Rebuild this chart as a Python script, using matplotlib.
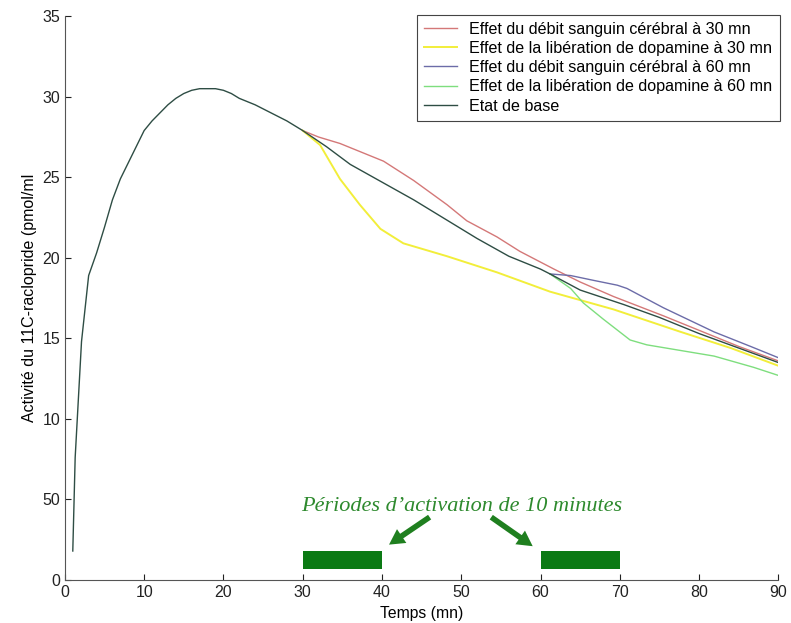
import numpy as np
import matplotlib
matplotlib.use('Agg')
import matplotlib.pyplot as plt

plt.rcParams['font.family'] = ['Liberation Sans', 'DejaVu Sans']

# baseline curve (etat de base)
base_t = [1, 1.3, 2.1, 3, 4, 5, 6, 7, 8, 9, 10, 11, 12, 13, 14, 15, 16, 17, 18, 19,
          20, 21, 22, 24, 26, 28, 30, 33, 36, 40, 44, 48, 52, 56, 60, 61.2,
          65, 70.5, 75, 80, 85, 90]
base_y = [1.8, 7.6, 14.8, 18.9, 20.3, 21.9, 23.6, 24.9, 25.9, 26.9, 27.9, 28.5, 29.0,
          29.5, 29.9, 30.2, 30.4, 30.5, 30.5, 30.5, 30.4, 30.2, 29.9, 29.5, 29.0,
          28.5, 27.9, 26.9, 25.8, 24.7, 23.6, 22.4, 21.2, 20.1, 19.3, 19.0,
          18.0, 17.1, 16.3, 15.3, 14.4, 13.5]

# branches leaving the baseline at 30 mn
red_t = [32, 34.7, 37.2, 40.2, 44, 48.2, 50.7, 54.5, 57.4, 61.7, 65, 69.2, 75.5, 80, 85, 90]
red_y = [27.5, 27.1, 26.6, 26.0, 24.8, 23.3, 22.3, 21.3, 20.4, 19.3, 18.5, 17.6, 16.4,
         15.5, 14.5, 13.6]
yel_t = [32.2, 34.7, 37.2, 39.8, 42.7, 48.2, 54.5, 61.2, 69.2, 77.7, 84, 90]
yel_y = [27.0, 24.9, 23.3, 21.8, 20.9, 20.1, 19.1, 17.9, 16.8, 15.4, 14.4, 13.3]

# branches leaving the baseline at 60 mn
blue_t = [63.8, 66.7, 69.7, 70.9, 75.5, 81.9, 86.5, 90]
blue_y = [18.9, 18.6, 18.3, 18.1, 16.9, 15.4, 14.5, 13.8]
grn_t = [63.8, 65.4, 67.9, 71.3, 73.4, 81.9, 86.9, 90]
grn_y = [18.1, 17.2, 16.2, 14.9, 14.6, 13.9, 13.2, 12.7]

periods = [(30, 40), (60, 70)]
yticks = [0, 5, 10, 15, 20, 25, 30, 35]
ytick_labels = ['0', '50', '10', '15', '20', '25', '30', '35']

legend_labels = ['Effet du débit sanguin cérébral à 30 mn',
                 'Effet de la libération de dopamine à 30 mn',
                 'Effet du débit sanguin cérébral à 60 mn',
                 'Effet de la libération de dopamine à 60 mn',
                 'Etat de base']


def branch(t0, t, y):
    # start the branch at the last baseline point before t0
    bt = np.array(base_t)
    by = np.array(base_y)
    i = np.where(bt <= t0)[0][-1]
    return np.concatenate([[bt[i]], t]), np.concatenate([[by[i]], y])


fig = plt.figure(figsize=(7.91, 6.23), dpi=100)
ax = fig.add_axes([0.082, 0.069, 0.902, 0.905])

x1, y1 = branch(30, red_t, red_y)
x2, y2 = branch(30, yel_t, yel_y)
x3, y3 = branch(61.2, blue_t, blue_y)
x4, y4 = branch(61.2, grn_t, grn_y)

l1, = ax.plot(x1, y1, color='#d47878', lw=1.0)
l2, = ax.plot(x2, y2, color='#f2ee3a', lw=1.4)
l3, = ax.plot(x3, y3, color='#6c6ca8', lw=1.0)
l4, = ax.plot(x4, y4, color='#7ede7e', lw=1.0)
l5, = ax.plot(base_t, base_y, color='#2e4d44', lw=1.0)

for a, b in periods:
    ax.fill_between([a, b], 0.7, 1.8, color='#0b7a14', lw=0)

ax.text(50, 4.55, 'Périodes d’activation de 10 minutes', family=['Liberation Serif', 'DejaVu Serif'],
        style='italic', fontsize=16, color='#2e8a2e', ha='center', va='center')
arrow = dict(arrowstyle='simple,head_length=1.1,head_width=1.2,tail_width=0.4',
             color='#1f7f1f', lw=0)
ax.annotate('', xy=(40.6, 2.1), xytext=(46.3, 4.0), arrowprops=arrow)
ax.annotate('', xy=(59.3, 2.0), xytext=(53.5, 4.0), arrowprops=arrow)

ax.set_xlim(0, 90)
ax.set_ylim(0, 35)
ax.set_xticks(range(0, 91, 10))
ax.set_yticks(yticks)
ax.set_yticklabels(ytick_labels)
ax.tick_params(direction='in', length=4, labelsize=11.5, colors='#222222')
ax.spines['top'].set_visible(False)
ax.spines['right'].set_visible(False)
for s in ['left', 'bottom']:
    ax.spines[s].set_color('#555555')
ax.set_xlabel('Temps (mn)', fontsize=11.3, labelpad=4.5)
ax.set_ylabel('Activité du 11C-raclopride (pmol/ml', fontsize=11.5, labelpad=4)

leg = ax.legend([l1, l2, l3, l4, l5], legend_labels, loc='upper right',
                bbox_to_anchor=(1.002, 1.003), fontsize=11.6, fancybox=False,
                handlelength=2.0, handletextpad=0.8, labelspacing=0.26,
                borderpad=0.45, borderaxespad=0, framealpha=1)
leg.get_frame().set_edgecolor('#444444')
leg.get_frame().set_linewidth(0.8)

fig.savefig('out.png', dpi=100)
